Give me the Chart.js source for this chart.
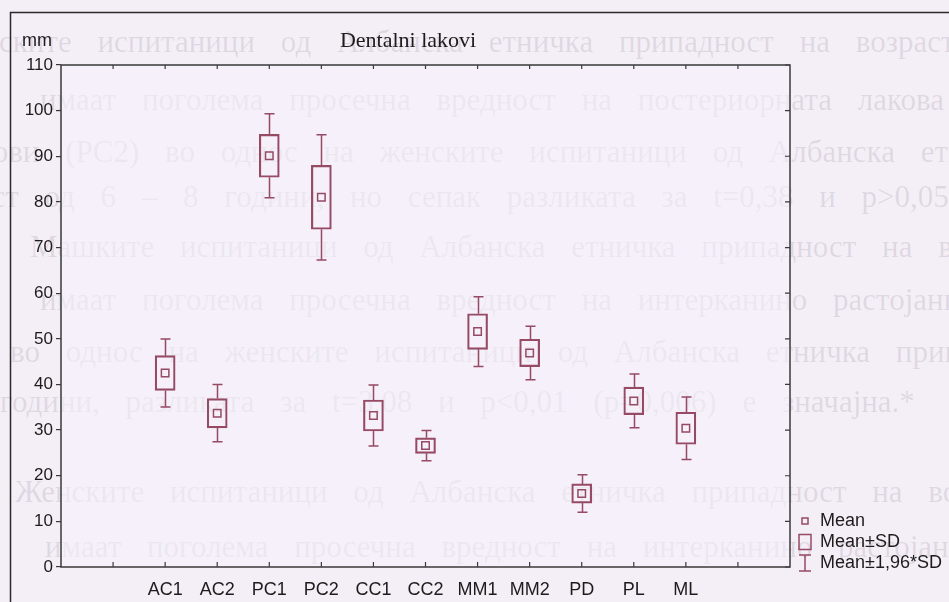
<!DOCTYPE html>
<html>
<head>
<meta charset="utf-8">
<script src="https://cdn.jsdelivr.net/npm/chart.js@4.4.1/dist/chart.umd.min.js"></script>
<style>
html, body { margin: 0; padding: 0; background: #f4eef6; overflow: hidden; }
#wrap { position: relative; width: 949px; height: 602px; }
#bleed { position: absolute; left: 0; top: 0; width: 949px; height: 602px; overflow: hidden;
  font-family: "Liberation Serif", serif; font-size: 31px; color: rgba(70, 60, 80, 0.12); }
#bleed div { position: absolute; white-space: nowrap; word-spacing: 18px; line-height: 1; }
canvas { position: absolute; left: 0; top: 0; }
</style>
</head>
<body>
<div id="wrap">
  <!-- text from the back of the scanned page showing through -->
  <div id="bleed">
    <div style="left:-85px;top:26px">Албанските испитаници од Албанска етничка припадност на возраст од</div>
    <div style="left:40px;top:84px">имаат поголема просечна вредност на постериорната лакова област</div>
    <div style="left:-50px;top:136px">лакови (PC2) во однос на женските испитаници од Албанска етничка припадност</div>
    <div style="left:-80px;top:181px">возраст од 6 – 8 години, но сепак разликата за t=0,38 и p&gt;0,05(p=0,71) не е значајна.</div>
    <div style="left:30px;top:231px">Машките испитаници од Албанска етничка припадност на возраст од</div>
    <div style="left:40px;top:284px">имаат поголема просечна вредност на интерканино растојание во</div>
    <div style="left:10px;top:336px">во однос на женските испитаници од Албанска етничка припадност на</div>
    <div style="left:0px;top:386px">години, разликата за t=3,08 и p&lt;0,01 (p=0,006) е значајна.*</div>
    <div style="left:15px;top:476px">Женските испитаници од Албанска етничка припадност на возраст од</div>
    <div style="left:45px;top:531px">имаат поголема просечна вредност на интерканино растојание на</div>
  </div>
  <canvas id="chart" width="949" height="602"></canvas>
</div>
<script>
"use strict";

/* ---------- data ---------- */
const categories = ["AC1", "AC2", "PC1", "PC2", "CC1", "CC2", "MM1", "MM2", "PD", "PL", "ML"];
const means = [42.5, 33.7, 90.1, 81.0, 33.2, 26.6, 51.6, 46.9, 16.1, 36.4, 30.4];
const sds = [3.8, 3.2, 4.7, 7.0, 3.4, 1.7, 3.9, 3.0, 2.1, 3.0, 3.5];
const yTicks = [0, 10, 20, 30, 40, 50, 60, 70, 80, 90, 100, 110];
const legendLabels = ["Mean", "Mean±SD", "Mean±1,96*SD"];
const title = "Dentalni lakovi";
const unit = "mm";
const FACTOR = 1.96;

/* ---------- look ---------- */
const MARK = "#964a63";
const INK = "#1c1c1c";
const FRAME = "#3a3a3a";
const SANS = '"Liberation Sans", Arial, sans-serif';
const SERIF = '"Liberation Serif", "Times New Roman", serif';

// categories sit on slots 2..12 of a 0..14 axis
const slot = (i) => i + 2;

const boxData = categories.map((c, i) => ({ x: slot(i), y: [means[i] - sds[i], means[i] + sds[i]] }));
const meanData = categories.map((c, i) => ({ x: slot(i), y: means[i] }));

/* ---------- plugin: frames, whiskers, inner ticks, title, legend ---------- */
const decor = {
  id: "decor",
  beforeDraw(chart) {
    const ctx = chart.ctx;
    const a = chart.chartArea;
    ctx.save();
    // plot interior is a touch paler, so the show-through fades there
    ctx.fillStyle = "rgba(246,242,251,0.55)";
    ctx.fillRect(a.left, a.top, a.right - a.left, a.bottom - a.top);
    ctx.strokeStyle = "#2a2a2a";
    ctx.lineWidth = 1.5;
    ctx.strokeRect(10.5, 12.5, 1200, 1200);
    ctx.restore();
  },
  afterDatasetsDraw(chart) {
    const ctx = chart.ctx;
    const xs = chart.scales.x, ys = chart.scales.y;
    ctx.save();
    ctx.strokeStyle = MARK;
    ctx.lineWidth = 1.5;
    categories.forEach((c, i) => {
      const x = Math.round(xs.getPixelForValue(slot(i))) + 0.5;
      const ends = [
        [means[i] + sds[i], means[i] + FACTOR * sds[i]],
        [means[i] - sds[i], means[i] - FACTOR * sds[i]],
      ];
      ends.forEach(([from, to]) => {
        const y0 = ys.getPixelForValue(from), y1 = ys.getPixelForValue(to);
        ctx.beginPath();
        ctx.moveTo(x, y0); ctx.lineTo(x, y1);
        ctx.moveTo(x - 5, y1); ctx.lineTo(x + 5, y1);
        ctx.stroke();
      });
    });
    ctx.restore();
  },
  afterDraw(chart) {
    const ctx = chart.ctx;
    const a = chart.chartArea;
    const xs = chart.scales.x, ys = chart.scales.y;
    ctx.save();
    // plot frame
    ctx.strokeStyle = FRAME;
    ctx.lineWidth = 1.5;
    ctx.strokeRect(a.left, a.top, a.right - a.left, a.bottom - a.top);
    // inner ticks: top, bottom, right
    ctx.lineWidth = 1.2;
    ctx.beginPath();
    for (let v = 1; v <= 13; v++) {
      const x = xs.getPixelForValue(v);
      ctx.moveTo(x, a.bottom); ctx.lineTo(x, a.bottom - 5);
      ctx.moveTo(x, a.top); ctx.lineTo(x, a.top + 4);
    }
    yTicks.forEach((v) => {
      const y = ys.getPixelForValue(v);
      ctx.moveTo(a.right, y); ctx.lineTo(a.right - 5, y);
    });
    ctx.stroke();

    // title and unit
    ctx.fillStyle = INK;
    ctx.textBaseline = "alphabetic";
    ctx.font = "22px " + SERIF;
    ctx.textAlign = "center";
    ctx.fillText(title, 408, 47);
    ctx.font = "18px " + SANS;
    ctx.textAlign = "left";
    ctx.fillText(unit, 22, 46);

    // legend
    const lx = 805;
    const rows = [521, 542, 563];
    ctx.strokeStyle = MARK;
    ctx.lineWidth = 1.5;
    ctx.strokeRect(lx - 3, rows[0] - 3, 6, 6);
    ctx.strokeRect(lx - 6, rows[1] - 7.5, 12, 15);
    ctx.beginPath();
    ctx.moveTo(lx, rows[2] - 8); ctx.lineTo(lx, rows[2] + 8);
    ctx.moveTo(lx - 6, rows[2] - 8); ctx.lineTo(lx + 6, rows[2] - 8);
    ctx.moveTo(lx - 6, rows[2] + 8); ctx.lineTo(lx + 6, rows[2] + 8);
    ctx.stroke();
    ctx.fillStyle = INK;
    ctx.font = "18px " + SANS;
    ctx.textBaseline = "middle";
    legendLabels.forEach((t, i) => ctx.fillText(t, 820, rows[i]));
    ctx.restore();
  },
};

new Chart(document.getElementById("chart"), {
  type: "bar",
  data: {
    datasets: [
      {
        type: "bar",
        data: boxData,
        backgroundColor: "rgba(0,0,0,0)",
        borderColor: MARK,
        borderWidth: 1.5,
        borderSkipped: false,
        barThickness: 20,
        order: 2,
      },
      {
        type: "scatter",
        data: meanData,
        pointStyle: "rect",
        pointRadius: 5.3,
        pointBackgroundColor: "rgba(0,0,0,0)",
        pointBorderColor: MARK,
        pointBorderWidth: 1.5,
        order: 1,
      },
    ],
  },
  plugins: [decor],
  options: {
    responsive: false,
    animation: false,
    devicePixelRatio: 1,
    layout: { padding: { top: 65, right: 159, bottom: 0, left: 0 } },
    plugins: { legend: { display: false }, tooltip: { enabled: false } },
    scales: {
      x: {
        type: "linear",
        min: 0, max: 14,
        offset: false,
        afterFit: (s) => { s.height = 35; },
        afterBuildTicks: (s) => { s.ticks = Array.from({ length: 15 }, (_, v) => ({ value: v })); },
        grid: { display: false, offset: false, drawTicks: false },
        border: { display: false },
        ticks: {
          padding: 12,
          autoSkip: false,
          maxRotation: 0,
          color: INK,
          font: { family: SANS, size: 18 },
          callback: (v) => (v >= 2 && v <= 12 ? categories[v - 2] : ""),
        },
      },
      y: {
        min: 0, max: 110,
        afterFit: (s) => { s.width = 61; },
        afterBuildTicks: (s) => { s.ticks = yTicks.map((v) => ({ value: v })); },
        grid: { drawOnChartArea: false, drawTicks: true, tickLength: 5, color: FRAME, lineWidth: 1.2 },
        border: { display: false },
        ticks: { padding: 3, color: INK, font: { family: SANS, size: 17 } },
      },
    },
  },
});
</script>
</body>
</html>
